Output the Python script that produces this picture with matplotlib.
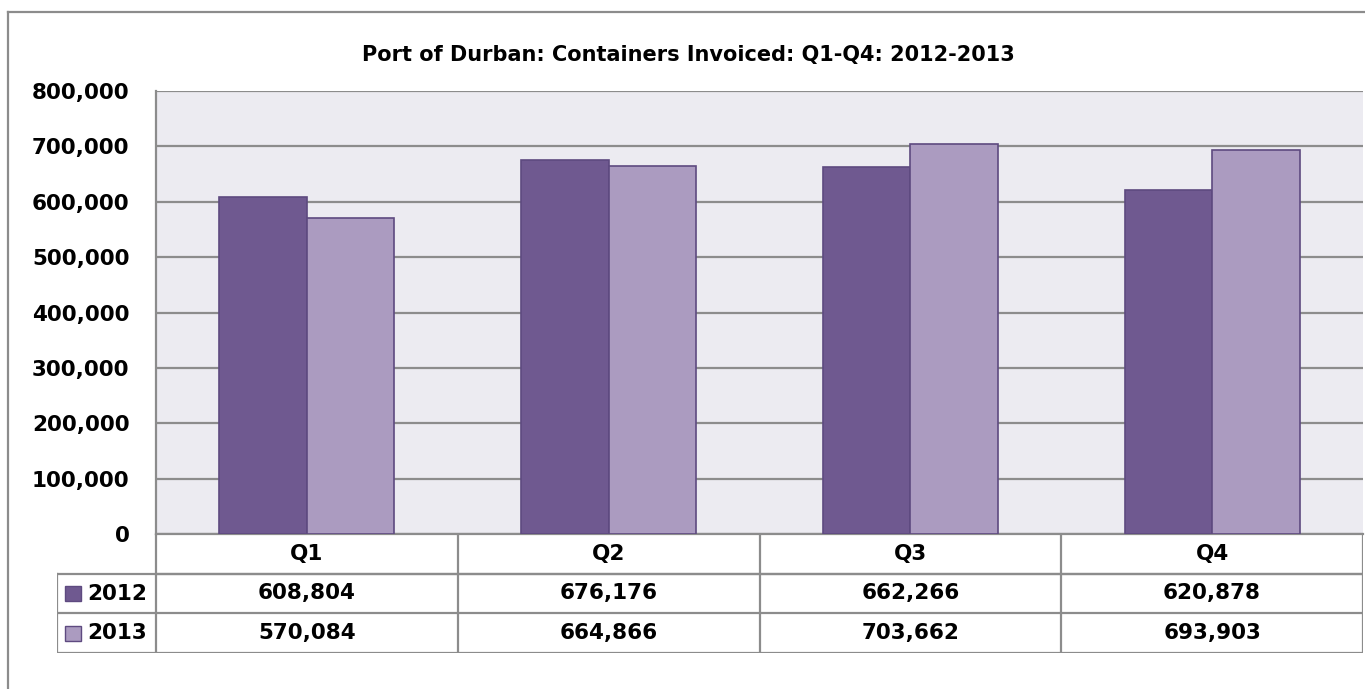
import matplotlib.pyplot as plt
import numpy as np
from matplotlib.patches import Rectangle
from matplotlib.lines import Line2D

# data
quarters = ['Q1', 'Q2', 'Q3', 'Q4']
years = ['2012', '2013']
vals_2012 = [608804, 676176, 662266, 620878]
vals_2013 = [570084, 664866, 703662, 693903]
yticks = [0, 100000, 200000, 300000, 400000, 500000, 600000, 700000, 800000]

c2012 = '#6f5990'
c2013 = '#ab9bc0'
edge = '#5e4a80'
grid_c = '#8c8c8c'

plt.rcParams['font.family'] = 'DejaVu Sans'
plt.rcParams['font.weight'] = 'bold'

W, H = 1365, 689
fig = plt.figure(figsize=(W / 100, H / 100), dpi=100)

def fx(px):
    return px / W

def fy(py):
    return 1 - py / H

# outer chart border (left + top visible)
fig.add_artist(Line2D([fx(8), fx(8)], [fy(12), 0], color=grid_c, lw=1.6))
fig.add_artist(Line2D([fx(8), 1], [fy(12), fy(12)], color=grid_c, lw=1.6))

# main plot
pl, pr, pt, pb = 156, 1363, 91, 534
ax = fig.add_axes([fx(pl), fy(pb), fx(pr - pl), fy(pt) - fy(pb)])
ax.set_facecolor('#ecebf1')
x = np.arange(len(quarters))
bw = 0.29
ax.bar(x - bw / 2, vals_2012, bw, color=c2012, edgecolor=edge, linewidth=1.2, zorder=3)
ax.bar(x + bw / 2, vals_2013, bw, color=c2013, edgecolor=edge, linewidth=1.2, zorder=3)
ax.set_xlim(-0.5, 3.5)
ax.set_ylim(0, 800000)
ax.set_yticks(yticks)
ax.set_yticklabels([f'{v:,}' for v in yticks], fontsize=15.5, fontweight='bold')
ax.tick_params(axis='y', length=0, pad=19)
ax.set_xticks([])
ax.yaxis.grid(True, color=grid_c, lw=1.6, zorder=1)
for s in ['top', 'right']:
    ax.spines[s].set_visible(False)
ax.spines['left'].set_color(grid_c)
ax.spines['left'].set_linewidth(1.6)
ax.spines['bottom'].set_color(grid_c)
ax.spines['bottom'].set_linewidth(1.6)

fig.text(fx(688), fy(55), 'Port of Durban: Containers Invoiced: Q1-Q4: 2012-2013',
         ha='center', va='center', fontsize=15, fontweight='bold')

# data table below the plot
tl, tt, tb = 57, 534, 653
unit = (pr - pl) / 4
ext = (pl - tl) / unit
tax = fig.add_axes([fx(tl), fy(tb), fx(pr - tl), fy(tt) - fy(tb)])
tax.set_xlim(-0.5 - ext, 3.5)
tax.set_ylim(3, 0)
tax.axis('off')

lk = dict(color=grid_c, lw=1.6, solid_capstyle='projecting')
# horizontal lines
tax.plot([-0.5, 3.5], [1, 1], **lk)
tax.plot([-0.5 - ext, 3.5], [1, 1], **lk)
tax.plot([-0.5 - ext, 3.5], [2, 2], **lk)
tax.plot([-0.5 - ext, 3.5], [3, 3], **lk)
# vertical lines
for xb in np.arange(len(quarters) + 1) - 0.5:
    tax.plot([xb, xb], [0, 3], **lk)
tax.plot([-0.5 - ext, -0.5 - ext], [1, 3], **lk)

fs = 15.5
for i, q in enumerate(quarters):
    tax.text(i, 0.5, q, ha='center', va='center', fontsize=fs, fontweight='bold')
    tax.text(i, 1.5, f'{vals_2012[i]:,}', ha='center', va='center', fontsize=fs, fontweight='bold')
    tax.text(i, 2.5, f'{vals_2013[i]:,}', ha='center', va='center', fontsize=fs, fontweight='bold')

for r, (yr, col) in enumerate(zip(years, [c2012, c2013])):
    tax.add_patch(Rectangle((-0.5 - ext + 0.027, 1.32 + r), 0.052, 0.38,
                            facecolor=col, edgecolor=edge, lw=1))
    tax.text(-0.5 - ext + 0.1, 1.5 + r, yr, ha='left', va='center',
             fontsize=fs, fontweight='bold')

fig.savefig('out.png', dpi=100)
